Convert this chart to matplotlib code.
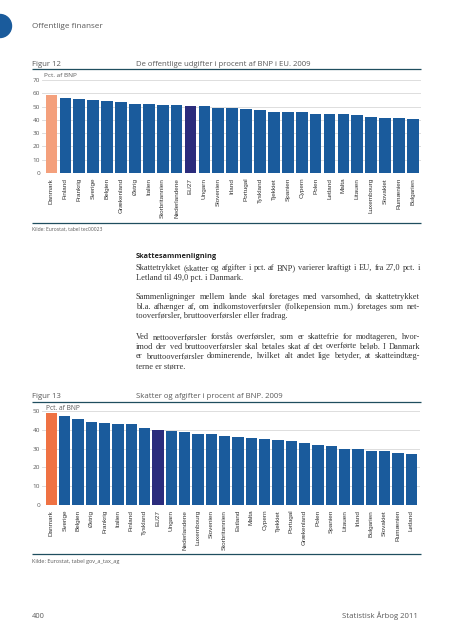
import matplotlib
matplotlib.use("Agg")
import matplotlib.pyplot as plt
from matplotlib.patches import Circle

# ---------------- data ----------------
countries12 = ["Danmark", "Finland", "Frankrig", "Sverige", "Belgien", "Grækenland",
               "Østrig", "Italien", "Storbritannien", "Nederlandene", "EU27", "Ungarn",
               "Slovenien", "Irland", "Portugal", "Tyskland", "Tjekkiet", "Spanien",
               "Cypern", "Polen", "Letland", "Malta", "Litauen", "Luxembourg",
               "Slovakiet", "Rumænien", "Bulgarien"]
values12 = [58.4, 56.1, 56.0, 54.9, 54.0, 53.2, 52.3, 51.9, 51.4, 51.4, 50.7, 50.5,
            49.0, 48.9, 48.2, 47.5, 45.9, 45.8, 45.7, 44.4, 44.2, 44.2, 43.8, 42.2,
            41.5, 41.1, 40.5]
yticks12 = [0, 10, 20, 30, 40, 50, 60, 70]

countries13 = ["Danmark", "Sverige", "Belgien", "Østrig", "Frankrig", "Italien",
               "Finland", "Tyskland", "EU27", "Ungarn", "Nederlandene", "Luxembourg",
               "Slovenien", "Storbritannien", "Estland", "Malta", "Cypern", "Tjekkiet",
               "Portugal", "Grækenland", "Polen", "Spanien", "Litauen", "Irland",
               "Bulgarien", "Slovakiet", "Rumænien", "Letland"]
values13 = [49.0, 47.5, 45.7, 44.3, 43.8, 43.3, 43.3, 41.0, 39.9, 39.5, 38.8, 37.9,
            37.8, 36.9, 36.2, 35.8, 35.3, 34.6, 34.0, 33.2, 31.9, 31.4, 29.8, 29.8,
            28.9, 28.7, 27.8, 27.0]
yticks13 = [0, 10, 20, 30, 40, 50]

section = "Offentlige finanser"
fig12_label = "Figur 12"
fig12_title = "De offentlige udgifter i procent af BNP i EU. 2009"
fig13_label = "Figur 13"
fig13_title = "Skatter og afgifter i procent af BNP. 2009"
unit = "Pct. af BNP"
source12 = "Kilde: Eurostat, tabel tec00023"
source13 = "Kilde: Eurostat, tabel gov_a_tax_ag"
heading = "Skattesammenligning"
paragraphs = [
    ["Skattetrykket (skatter og afgifter i pct. af BNP) varierer kraftigt i EU, fra 27,0 pct. i",
     "Letland til 49,0 pct. i Danmark."],
    ["Sammenligninger mellem lande skal foretages med varsomhed, da skattetrykket",
     "bl.a. afhænger af, om indkomstoverførsler (folkepension m.m.) foretages som net-",
     "tooverførsler, bruttooverførsler eller fradrag."],
    ["Ved nettooverførsler forstås overførsler, som er skattefrie for modtageren, hvor-",
     "imod der ved bruttooverførsler skal betales skat af det overførte beløb. I Danmark",
     "er bruttooverførsler dominerende, hvilket alt andet lige betyder, at skatteindtæg-",
     "terne er større."],
]
page_no = "400"
book = "Statistisk Årbog 2011"

# ---------------- style ----------------
BLUE = "#1a5b9c"
NAVY = "#2b2c7c"
SALMON = "#f4a07c"
ORANGE = "#ef7243"
LINE = "#1f4e5f"
GREY = "#5a5a5a"
GRID = "#d8d8d8"
SANS = ["Open Sans", "DejaVu Sans"]
NARROW = ["Liberation Sans Narrow", "Liberation Sans", "DejaVu Sans"]
SERIF = ["Liberation Serif", "DejaVu Serif"]
BODY = "#333333"

W, H = 452, 640
fig = plt.figure(figsize=(W / 100, H / 100), dpi=100)
fig.patch.set_facecolor("white")
renderer = fig.canvas.get_renderer()

bg = fig.add_axes([0, 0, 1, 1])
bg.set_xlim(0, W)
bg.set_ylim(H, 0)
bg.axis("off")


def width_of(t):
    return t.get_window_extent(renderer).width


def put(x, y, s, size=None, width=None, ha="left", family=SANS, color=GREY, **kw):
    t = bg.text(x, y, s, ha=ha, va="center_baseline", fontsize=10 if width else size,
                family=family, color=color, **kw)
    if width:
        t.set_fontsize(10 * width / width_of(t))
    return t


def justify(x0, x1, y, line, size):
    words = line.split(" ")
    ts = [bg.text(x0, y, w, fontsize=size, family=SERIF, color=BODY,
                  va="baseline", ha="left") for w in words]
    ws = [width_of(t) for t in ts]
    gap = (x1 - x0 - sum(ws)) / (len(words) - 1)
    x = x0
    for t, w in zip(ts, ws):
        t.set_x(x)
        x += w + gap


# page decorations
bg.add_patch(Circle((0, 26), 11.5, color=BLUE, clip_on=False))
put(32, 26, section, width=71)
put(W - 34, 615, book, width=76, ha="right")
put(32, 615, page_no, width=13)

# figure headers / footers
t12 = put(136, 63, fig12_title, width=175)
put(32, 63, fig12_label, size=t12.get_fontsize())
t13 = put(136, 395, fig13_title, width=147)
put(32, 395, fig13_label, size=t13.get_fontsize())
for y in (69, 223, 402, 554):
    bg.plot([32, 421], [y, y], color=LINE, lw=0.9, solid_capstyle="butt")
put(32, 229, source12, width=71)
put(32, 561, source13, width=87)
put(44, 75, unit, size=4.6)
put(46, 407, unit, size=4.8)

# body text (justified word by word)
put(136, 256, heading, width=81, color="#222222", fontweight="bold")
all_lines = [ln for p in paragraphs for ln in p]
widths = []
for ln in all_lines:
    tmp = bg.text(0, 0, ln, fontsize=10, family=SERIF)
    widths.append(width_of(tmp))
    tmp.remove()
body_size = 10 * 280 / max(widths)
ys = [[267.7, 277.3], [297, 306.5, 316], [336.7, 346.3, 356, 366.5]]
for para, yl in zip(paragraphs, ys):
    for i, (line, y) in enumerate(zip(para, yl)):
        if i == len(para) - 1:
            bg.text(136, y + 2.3, line, fontsize=body_size, family=SERIF, color=BODY,
                    va="baseline", ha="left")
        else:
            justify(136, 420, y + 2.3, line, body_size)


def chart(rect, cats, vals, ticks, xlim, highlight, lab_size, bar_w):
    ax = fig.add_axes(rect)
    colors = [BLUE] * len(cats)
    colors[0] = highlight
    colors[cats.index("EU27")] = NAVY
    x = list(range(len(cats)))
    ax.bar(x, vals, width=bar_w, color=colors, zorder=3)
    ax.set_xlim(*xlim)
    ax.set_ylim(ticks[0], ticks[-1])
    ax.set_yticks(ticks)
    ax.set_xticks(x)
    ax.set_xticklabels(cats, rotation=90, va="top", ha="center",
                       family=NARROW, fontsize=lab_size, color="#333333")
    ax.tick_params(axis="both", length=0)
    ax.tick_params(axis="x", pad=3.5)
    ax.tick_params(axis="y", pad=1.5, labelsize=lab_size, labelcolor=GREY)
    for lab in ax.get_yticklabels():
        lab.set_family(SANS)
    ax.yaxis.grid(True, color=GRID, lw=0.6, zorder=0)
    ax.set_axisbelow(True)
    for sp in ax.spines.values():
        sp.set_visible(False)
    ax.patch.set_alpha(0)
    return ax


chart([42 / W, 1 - 173 / H, (421 - 42) / W, 93 / H], countries12, values12, yticks12,
      (-0.68, 26.58), SALMON, 4.6, 0.84)
chart([42 / W, 1 - 505 / H, (420 - 42) / W, 94 / H], countries13, values13, yticks13,
      (-0.71, 27.66), ORANGE, 4.6, 0.85)

fig.savefig("out.png", dpi=100, facecolor="white")
